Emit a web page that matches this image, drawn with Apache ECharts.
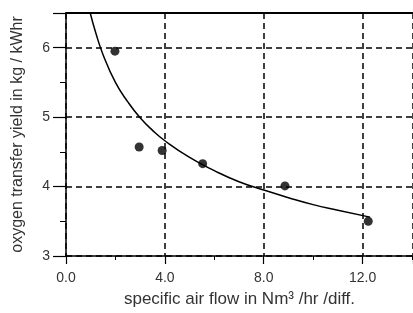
<!DOCTYPE html>
<html>
<head>
<meta charset="utf-8">
<script src="https://cdn.jsdelivr.net/npm/echarts@6/dist/echarts.min.js"></script>
<style>
  html, body { margin: 0; padding: 0; background: #fff; }
  #chart { width: 413px; height: 313px; }
</style>
</head>
<body>
<div id="chart"></div>
<script>
// measured points
const airFlow = [1.98, 2.96, 3.89, 5.53, 8.86, 12.23]
const yieldVals = [5.95, 4.57, 4.52, 4.33, 4.01, 3.5]

// fitted curve
const curveX = [0.98, 1.2, 1.5, 2, 2.5, 3, 3.5, 4, 5, 6, 7, 8, 9, 10, 11, 12.3]
const curveY = [6.5, 6.22, 5.9, 5.5, 5.22, 4.99, 4.81, 4.66, 4.42, 4.23, 4.07, 3.95, 3.84, 3.74, 3.66, 3.56]

const xTicks = [0, 4, 8, 12]
const yTicks = [3, 4, 5, 6]

const chart = echarts.init(document.getElementById('chart'))
const txt = '#333'
const font = 'Liberation Sans'
const dash = { color: '#000', width: 1.5, type: [6, 4] }

chart.setOption({
  animation: false,
  grid: { left: 66, right: -3, top: 13, bottom: 55 },
  xAxis: [{
    type: 'value', min: 0, max: 14.04, interval: 4,
    name: 'specific air flow in Nm³ /hr /diff.',
    nameLocation: 'middle', nameGap: 35,
    nameTextStyle: { color: txt, fontSize: 17, fontFamily: font },
    axisLine: { onZero: false, lineStyle: { color: '#000', width: 1.5 } },
    axisTick: { length: 8, lineStyle: { color: '#000', width: 1.2 } },
    minorTick: { show: true, splitNumber: 2, length: 4, lineStyle: { color: '#000' } },
    axisLabel: {
      color: txt, fontSize: 14, fontFamily: font, margin: 15,
      showMaxLabel: false,
      formatter: v => xTicks.includes(v) ? v.toFixed(1) : ''
    },
    splitLine: { show: true, lineStyle: dash }
  }, {
    type: 'value', position: 'top', min: 0, max: 14.04,
    axisLine: { show: true, lineStyle: { color: '#000', width: 2 } },
    axisTick: { show: false }, axisLabel: { show: false }, splitLine: { show: false }
  }],
  yAxis: {
    type: 'value', min: 3, max: 6.5, interval: 1,
    name: 'oxygen transfer yield in kg / kWhr',
    nameLocation: 'middle', nameGap: 40,
    nameTextStyle: { color: txt, fontSize: 16, fontFamily: font },
    axisLine: { show: true, lineStyle: { color: '#000', width: 1.5 } },
    axisTick: { length: 13, lineStyle: { color: '#000', width: 1.2 } },
    minorTick: { show: true, splitNumber: 2, length: 6, lineStyle: { color: '#000' } },
    axisLabel: {
      color: txt, fontSize: 14, fontFamily: font, margin: 16,
      showMaxLabel: false,
      formatter: v => yTicks.includes(v) ? String(v) : ''
    },
    splitLine: { show: true, lineStyle: dash }
  },
  series: [{
    type: 'line',
    data: curveX.map((x, i) => [x, curveY[i]]),
    smooth: true, showSymbol: false,
    lineStyle: { color: '#000', width: 1.5 }
  }, {
    type: 'scatter',
    data: airFlow.map((x, i) => [x, yieldVals[i]]),
    symbolSize: 9,
    itemStyle: { color: '#000' }
  }]
})
</script>
</body>
</html>
